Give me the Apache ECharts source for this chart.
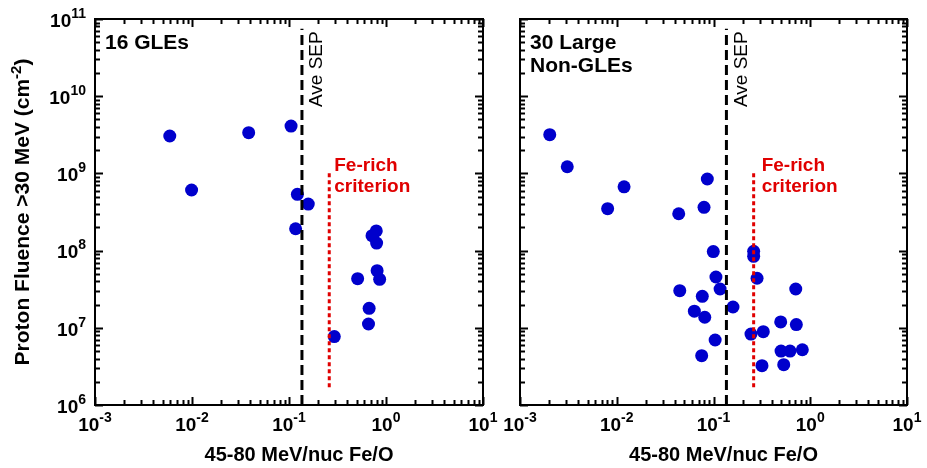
<!DOCTYPE html>
<html>
<head>
<meta charset="utf-8">
<script src="https://cdn.jsdelivr.net/npm/echarts@6/dist/echarts.min.js"></script>
<style>
  html, body { margin: 0; padding: 0; background: #fff; }
  #chart { width: 927px; height: 468px; }
</style>
</head>
<body>
<div id="chart"></div>
<script>
// Fe/O ratio vs. >30 MeV proton fluence for GLE and large non-GLE SEP events
const FONT = '"Liberation Sans", Arial, Helvetica, sans-serif';

// Tick decades (exponents) and in-decade minor steps
const xDecades = [-3, -2, -1, 0, 1];
const yDecades = [6, 7, 8, 9, 10, 11];
const minorSteps = [2, 3, 4, 5, 6, 7, 8, 9];

const panelTitles = ['16 GLEs', '30 Large\nNon-GLEs'];
const xTitle = '45-80 MeV/nuc Fe/O';
const yTitleParts = ['Proton Fluence >30 MeV (cm', '-2', ')'];
const aveSEPLabel = 'Ave SEP';
const feRichLabel = 'Fe-rich\ncriterion';

// Reference lines
const aveSEP = 0.136;
const aveSEPRange = [1e6, 7.5e10];
const feRich = 0.26;
const feRichRange = [1.7e6, 1.05e9];

// GLE events
const gleFeO = [0.0059, 0.0384, 0.105, 0.0099, 0.122, 0.158, 0.117, 0.794,
                0.718, 0.80, 0.81, 0.51, 0.86, 0.67, 0.66, 0.293];
const gleFluence = [3.05e9, 3.37e9, 4.1e9, 6.1e8, 5.36e8, 4.0e8, 1.92e8, 1.8e8,
                    1.56e8, 1.25e8, 5.5e7, 4.33e7, 4.25e7, 1.79e7, 1.12e7, 7.7e6];

// Large non-GLE events
const nonGleFeO = [0.00203, 0.00308, 0.0119, 0.00805, 0.0437, 0.0798, 0.0863, 0.0995,
                   0.106, 0.117, 0.0448, 0.0766, 0.159, 0.0634, 0.0812, 0.104,
                   0.0755, 0.26, 0.26, 0.282, 0.244, 0.327, 0.317, 0.708,
                   0.495, 0.718, 0.499, 0.618, 0.828, 0.532];
const nonGleFluence = [3.17e9, 1.22e9, 6.7e8, 3.49e8, 3.0e8, 3.64e8, 8.46e8, 9.7e7,
                       4.55e7, 3.18e7, 3.03e7, 2.56e7, 1.86e7, 1.64e7, 1.37e7, 6.95e6,
                       4.35e6, 9.8e7, 8.44e7, 4.38e7, 8.3e6, 8.9e6, 3.23e6, 3.18e7,
                       1.19e7, 1.1e7, 5.0e6, 5.0e6, 5.2e6, 3.33e6];

const pow10 = e => Math.pow(10, e);
const majors = dec => dec.map(pow10);
const minors = dec => {
  const out = [];
  dec.slice(0, -1).forEach(e => minorSteps.forEach(s => out.push(+(s * pow10(e)).toPrecision(6))));
  return out;
};
const xRange = [pow10(xDecades[0]), pow10(xDecades[xDecades.length - 1])];
const yRange = [pow10(yDecades[0]), pow10(yDecades[yDecades.length - 1])];

const powRich = {
  b: { fontFamily: FONT, fontSize: 19, fontWeight: 'bold', color: '#000', lineHeight: 24, verticalAlign: 'bottom' },
  s: { fontFamily: FONT, fontSize: 14, fontWeight: 'bold', color: '#000', lineHeight: 14, verticalAlign: 'top' }
};
const powFormatter = v => '{b|10}{s|' + Math.round(Math.log10(v)) + '}';

const grids = [
  { left: 95, top: 19, width: 388, height: 386 },
  { left: 520, top: 19, width: 387, height: 386 }
];

const baseAxis = (gridIndex, position, range) => ({
  type: 'log', logBase: 10, gridIndex, position,
  min: range[0], max: range[1],
  axisLine: { show: false, onZero: false },
  axisTick: { show: false },
  axisLabel: { show: false },
  splitLine: { show: false },
  minorTick: { show: false },
  minorSplitLine: { show: false },
  axisPointer: { show: false },
  silent: true
});

const xAxes = grids.map((g, gi) => Object.assign(baseAxis(gi, 'bottom', xRange), {
  axisLabel: { show: true, customValues: majors(xDecades), margin: 6,
               formatter: powFormatter, rich: powRich },
  name: xTitle, nameLocation: 'middle', nameGap: 40,
  nameTextStyle: { fontFamily: FONT, fontSize: 20, fontWeight: 'bold', color: '#000',
                   padding: [0, 0, 0, 20] }
}));

const yAxes = grids.map((g, gi) => Object.assign(baseAxis(gi, 'left', yRange), gi === 0 ? {
  axisLabel: { show: true, customValues: majors(yDecades), margin: 9,
               formatter: powFormatter, rich: powRich },
  name: '{t|' + yTitleParts[0] + '}{s|' + yTitleParts[1] + '}{t|' + yTitleParts[2] + '}',
  nameLocation: 'middle', nameGap: 61,
  nameTextStyle: {
    rich: {
      t: { fontFamily: FONT, fontSize: 21, fontWeight: 'bold', color: '#000', lineHeight: 25, verticalAlign: 'bottom' },
      s: { fontFamily: FONT, fontSize: 15, fontWeight: 'bold', color: '#000', lineHeight: 15, verticalAlign: 'top' }
    }
  }
} : {}));

const zip = (a, b) => a.map((v, i) => [v, b[i]]);
const pointStyle = { color: '#0000cc', opacity: 1 };

function panelSeries(gi, feO, fluence) {
  return [
    {
      type: 'scatter', xAxisIndex: gi, yAxisIndex: gi,
      data: zip(feO, fluence), symbol: 'circle', symbolSize: 13,
      itemStyle: pointStyle, z: 3, silent: true
    },
    {
      type: 'line', xAxisIndex: gi, yAxisIndex: gi,
      data: aveSEPRange.map(v => [aveSEP, v]), symbol: 'none',
      lineStyle: { color: '#000', width: 3, type: [10, 5] }, z: 4, silent: true
    },
    {
      type: 'line', xAxisIndex: gi, yAxisIndex: gi,
      data: feRichRange.map(v => [feRich, v]), symbol: 'none',
      lineStyle: { color: '#e00000', width: 3, type: [4, 3] }, z: 4, silent: true
    }
  ];
}

const chart = echarts.init(document.getElementById('chart'), null, { renderer: 'canvas' });
chart.setOption({
  animation: false,
  backgroundColor: '#fff',
  grid: grids.map(g => Object.assign({
    show: true, borderColor: '#000', borderWidth: 2, backgroundColor: 'transparent',
    outerBoundsMode: 'none', containLabel: false
  }, g)),
  xAxis: xAxes,
  yAxis: yAxes,
  series: panelSeries(0, gleFeO, gleFluence).concat(panelSeries(1, nonGleFeO, nonGleFluence))
});

// Inward log ticks on all four sides, drawn as one path per panel
const graphics = [];
grids.forEach((g, gi) => {
  const px = v => chart.convertToPixel({ xAxisIndex: gi }, v);
  const py = v => chart.convertToPixel({ yAxisIndex: gi }, v);
  const left = px(xRange[0]), right = px(xRange[1]);
  const bottom = py(yRange[0]), top = py(yRange[1]);
  const segs = [];

  [[majors(xDecades), 8], [minors(xDecades), 5]].forEach(([vals, len]) => vals.forEach(v => {
    const x = Math.round(px(v)) + 0.5;
    segs.push([[x, bottom], [x, bottom - len]]);
    segs.push([[x, top], [x, top + len]]);
  }));
  [[majors(yDecades), 8], [minors(yDecades), 5]].forEach(([vals, len]) => vals.forEach(v => {
    const y = Math.round(py(v)) + 0.5;
    segs.push([[left, y], [left + len, y]]);
    segs.push([[right, y], [right - len, y]]);
  }));
  segs.forEach(s => graphics.push({
    type: 'polyline', z: 100, zlevel: 0, silent: true,
    shape: { points: s },
    style: { stroke: '#000', lineWidth: 2, fill: null }
  }));

  const aveX = px(aveSEP);
  const feX = px(feRich);
  graphics.push({
    type: 'text', x: g.left + 10, y: 32, z: 10,
    style: { text: panelTitles[gi], fontFamily: FONT, fontSize: 21, fontWeight: 'bold',
             fill: '#000', lineHeight: 23, textAlign: 'left', textVerticalAlign: 'top' }
  });
  graphics.push({
    type: 'text', x: aveX + 15, y: 107, rotation: Math.PI / 2, z: 10,
    style: { text: aveSEPLabel, fontFamily: FONT, fontSize: 19, fontWeight: 'normal',
             fill: '#000', textAlign: 'left', textVerticalAlign: 'middle' }
  });
  graphics.push({
    type: 'text', x: feX + 5 + gi * 3, y: 155, z: 10,
    style: { text: feRichLabel, fontFamily: FONT, fontSize: 19, fontWeight: 'bold',
             fill: '#e00000', lineHeight: 21, textAlign: 'left', textVerticalAlign: 'top' }
  });
});
chart.setOption({ graphic: { elements: graphics } });
</script>
</body>
</html>
